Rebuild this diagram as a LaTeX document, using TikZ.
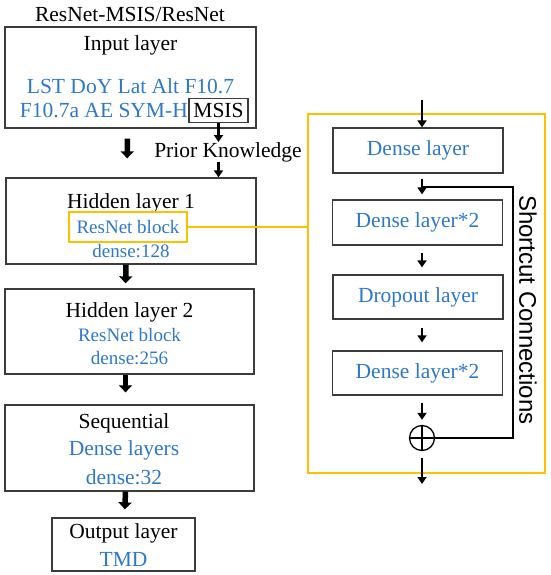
\documentclass[tikz,border=0pt]{standalone}
\usepackage{fontspec}
\setmainfont{Liberation Serif}
\newfontfamily\shortcutfont{Liberation Sans}
\usetikzlibrary{arrows.meta}
\definecolor{netblue}{RGB}{46,120,200}
\definecolor{blockorange}{RGB}{255,192,0}
\definecolor{boxgray}{RGB}{60,60,60}
\tikzset{
  layerbox/.style={draw=boxgray, line width=1.3pt, inner sep=0pt},
  big/.style={font=\fontsize{21.5}{24}\selectfont, inner sep=0pt},
  small/.style={font=\fontsize{19}{22}\selectfont, inner sep=0pt},
  bluetext/.style={text=netblue},
  fatarrow/.style={line width=5.5pt, -{Triangle[width=13pt,length=7pt]}},
  thinarrow/.style={line width=2.8pt, -{Triangle[width=9pt,length=7pt]}},
}
\begin{document}
\begin{tikzpicture}[x=1pt,y=-1pt]
  \useasboundingbox (0,0) rectangle (550,575);

  % title
  \node[big] (title) at (130,14) {ResNet-MSIS/ResNet};

  % input layer
  \node[layerbox, minimum width=251pt, minimum height=101pt] (input) at (130.5,77.5) {};
  \node[big] (inputlbl) at (130.5,45) {Input layer};
  \node[big, bluetext] (vars1) at (130.5,86) {LST DoY Lat Alt F10.7};
  \node[big, bluetext, anchor=east] (vars2) at (188,111) {F10.7a AE SYM-H};
  \node[big, draw=boxgray, line width=1.1pt, minimum width=59pt, minimum height=24pt] (msis) at (218.5,110.5) {MSIS};

  % prior knowledge
  \node[big] (prior) at (228,152) {Prior Knowledge};
  \draw[thinarrow] (msis.south) -- (prior.north -| msis.south);

  % hidden layer 1
  \node[layerbox, minimum width=250pt, minimum height=86pt] (hid1) at (131,221) {};
  \node[big] (hid1lbl) at (131,203) {Hidden layer 1};
  \node[small, bluetext, draw=blockorange, line width=1.2pt, minimum width=118pt, minimum height=30pt] (rb1) at (128,227) {ResNet block};
  \node[small, bluetext] (hid1dense) at (131,251) {dense:128};
  \draw[thinarrow] (prior.south -| msis.south) -- (hid1.north -| msis.south);

  % hidden layer 2
  \node[layerbox, minimum width=249pt, minimum height=85pt] (hid2) at (129.5,331.5) {};
  \node[big] (hid2lbl) at (129.5,312) {Hidden layer 2};
  \node[small, bluetext] (rb2) at (129.5,335) {ResNet block};
  \node[small, bluetext] (hid2dense) at (129.5,358) {dense:256};

  % sequential
  \node[layerbox, minimum width=249pt, minimum height=86pt] (seq) at (129.5,448) {};
  \node[big] (seqlbl) at (124,423) {Sequential};
  \node[big, bluetext] (seqdense) at (124,450) {Dense layers};
  \node[big, bluetext] (seqsize) at (124,477) {dense:32};

  % output layer
  \node[layerbox, minimum width=143pt, minimum height=53pt] (out) at (123.5,544.5) {};
  \node[big] (outlbl) at (123.5,533) {Output layer};
  \node[big, bluetext] (tmd) at (123.5,559) {TMD};

  % main flow
  \draw[fatarrow, shorten <=10pt, shorten >=19pt] ([xshift=-3pt]input.south) -- ([xshift=-4pt]hid1.north);
  \draw[fatarrow, shorten >=5pt] ([xshift=-5pt]hid1.south) -- ([xshift=-4pt]hid2.north);
  \draw[fatarrow, shorten >=12pt] ([xshift=-4pt]hid2.south) -- ([xshift=-4pt]seq.north);
  \draw[fatarrow, shorten >=8pt] ([xshift=-4pt]seq.south) -- ([xshift=1pt]out.north);

  % ResNet block detail
  \node[draw=blockorange, line width=2pt, minimum width=237pt, minimum height=359pt] (resblock) at (426.5,293.5) {};
  \draw[blockorange, line width=1.2pt] (rb1.east) -- (rb1.east -| resblock.west);

  \node[layerbox, big, bluetext, minimum width=170pt, minimum height=45pt] (d1) at (418,150.5) {Dense layer};
  \node[layerbox, big, bluetext, minimum width=170pt, minimum height=45pt] (d2) at (417.5,222.5) {Dense layer*2};
  \node[layerbox, big, bluetext, minimum width=170pt, minimum height=44pt] (drop) at (418,297) {Dropout layer};
  \node[layerbox, big, bluetext, minimum width=170pt, minimum height=44pt] (d3) at (417.5,373) {Dense layer*2};
  \node[draw=black, line width=1.3pt, circle, minimum size=25pt, inner sep=0pt] (plus) at (422,438) {};
  \draw[line width=1.3pt] (plus.north) -- (plus.south) (plus.west) -- (plus.east);

  \coordinate (blockin) at (422,100);
  \coordinate (blockout) at (422,484);
  \coordinate (skip) at (513,187);

  % arrows in the block
  \draw[thinarrow] (blockin) -- (blockin |- d1.north);
  \draw[thinarrow, shorten <=5pt, shorten >=5pt] (d1.south -| plus) -- (d2.north -| plus);
  \draw[thinarrow, shorten <=7pt, shorten >=7pt] (d2.south -| plus) -- (drop.north -| plus);
  \draw[thinarrow, shorten <=8pt, shorten >=8pt] (drop.south -| plus) -- (d3.north -| plus);
  \draw[thinarrow, shorten <=7pt, shorten >=5pt] (d3.south -| plus) -- (plus.north);
  \draw[thinarrow, shorten <=7pt] (plus.south) -- (blockout);

  % shortcut
  \draw[line width=1.8pt] (plus.east) -| (skip) -- (skip -| plus);
  \node[font=\shortcutfont\fontsize{24}{26}\selectfont, rotate=-90, inner sep=0pt] (sclbl) at (528,310) {Shortcut Connections};

\end{tikzpicture}
\end{document}
